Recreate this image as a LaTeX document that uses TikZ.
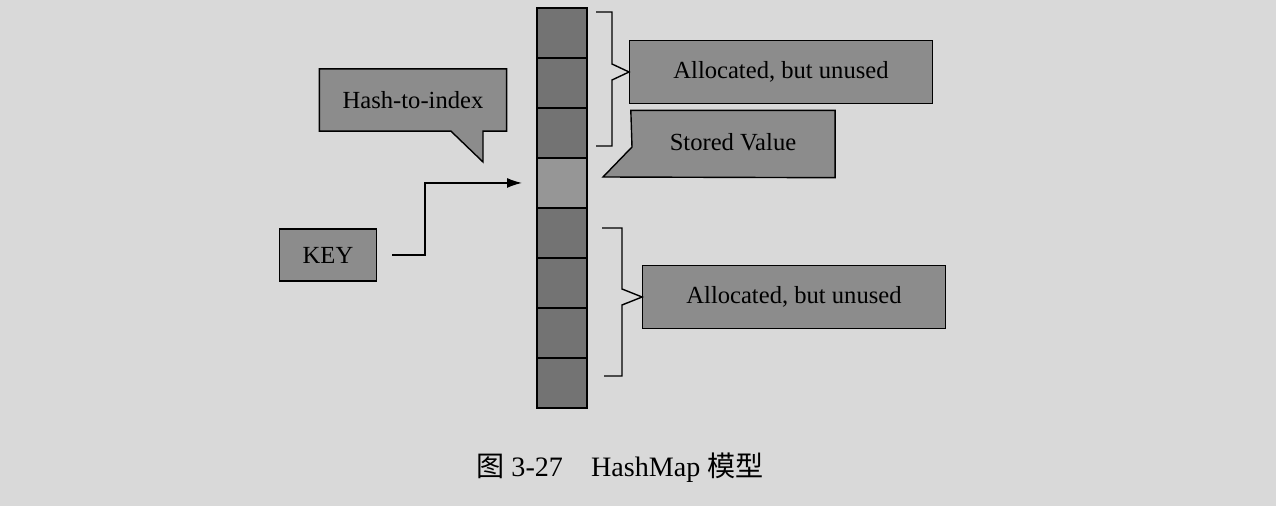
\documentclass[tikz,border=0pt]{standalone}
\usepackage{fontspec}
\setmainfont{Liberation Serif}
\newfontfamily\cjk{Noto Sans CJK SC}
\usetikzlibrary{arrows.meta,positioning}
\definecolor{paper}{HTML}{D9D9D9}
\definecolor{cellgray}{HTML}{737373}
\definecolor{valgray}{HTML}{969696}
\definecolor{boxgray}{HTML}{8C8C8C}

\begin{document}
\begin{tikzpicture}[x=0.02cm, y=-0.02cm, line width=0.8pt,
  cell/.style={rectangle, draw=black, fill=cellgray, minimum width=1cm, minimum height=1cm, inner sep=0pt, outer sep=0pt},
  box/.style={rectangle, draw=black, fill=boxgray, font=\fontsize{14}{16}\selectfont, minimum width=6.05cm, minimum height=1.26cm},
  callout/.style={draw=black, fill=boxgray},
  bracket/.style={line width=0.8pt},
  arrow/.style={-{Latex[length=3mm, width=2mm]}, line width=0.8pt}]
\fill[paper] (0,0) rectangle (1276,506);
\useasboundingbox (0,0) rectangle (1276,506);
% the bucket array
\node[cell, anchor=north west] (c1) at (537,8) {};
\node[cell, below=0pt of c1] (c2) {};
\node[cell, below=0pt of c2] (c3) {};
\node[cell, fill=valgray, below=0pt of c3] (c4) {};
\node[cell, below=0pt of c4] (c5) {};
\node[cell, below=0pt of c5] (c6) {};
\node[cell, below=0pt of c6] (c7) {};
\node[cell, below=0pt of c7] (c8) {};
% key and hash callout
\node[rectangle, draw=black, fill=boxgray, font=\fontsize{14}{16}\selectfont, minimum width=1.94cm, minimum height=1.04cm] (key) at (328,255) {KEY};
\node[minimum width=3.72cm, minimum height=1.22cm] (hash) at (413,100) {};
\draw[callout] (hash.north west) -- (hash.north east) -- (hash.south east) -- (483,0 |- hash.south) -- (483,162) -- (451,0 |- hash.south) -- (hash.south west) -- cycle;
\node[font=\fontsize{14}{16}\selectfont] at (hash) {Hash-to-index};
\draw[arrow] ([xshift=0.3cm]key.east) -- ++(0.66cm,0) |- ([xshift=-0.3cm]c4.west);
% right hand labels
\node[box] (alloc1) at (781,72) {Allocated, but unused};
\node[minimum width=4.06cm, minimum height=1.32cm] (stored) at (733,144) {};
\draw[callout] (stored.north west) -- (stored.north east) -- (stored.south east) -- (603,177) -- (632,147) -- cycle;
\node[font=\fontsize{14}{16}\selectfont] at ([yshift=0.04cm]stored) {Stored Value};
\node[box] (alloc2) at (794,297) {Allocated, but unused};
% brackets
\draw[bracket] (596,12) -- (612,12) -- (612,64) -- (alloc1.west) -- (612,80) -- (612,146) -- (596,146);
\draw[bracket] (602,228) -- (622,228) -- (622,289) -- (alloc2.west) -- (622,305) -- (622,376) -- (604,376);
% caption
\node[font=\fontsize{16}{18}\selectfont] (caption) at (620,468) {{\cjk 图} 3-27\quad HashMap {\cjk 模型}};
\end{tikzpicture}
\end{document}
